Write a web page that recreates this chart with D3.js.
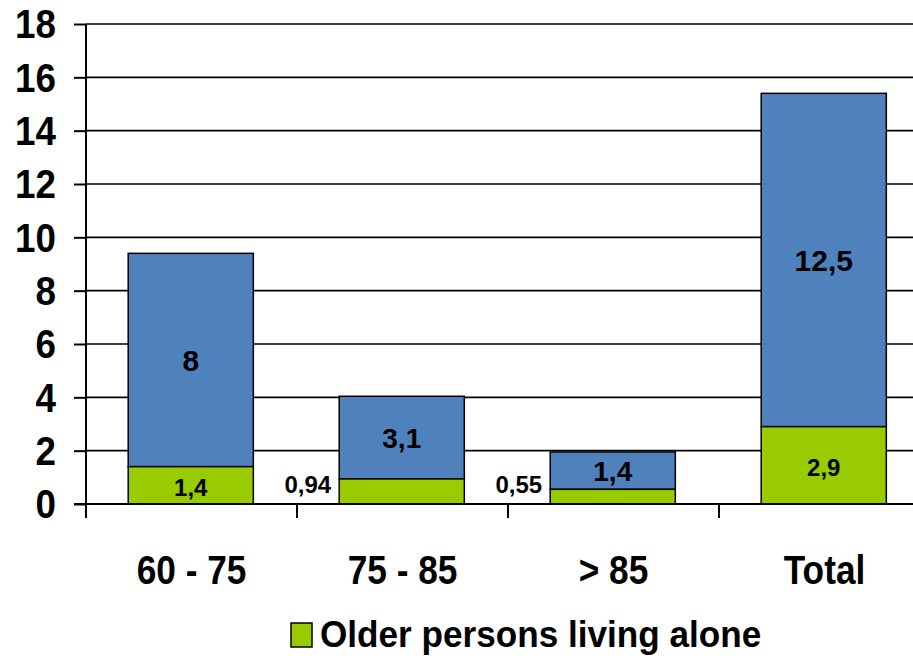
<!DOCTYPE html>
<html>
<head>
<meta charset="utf-8">
<script src="https://cdn.jsdelivr.net/npm/d3@7"></script>
<style>
  html, body { margin: 0; padding: 0; background: #fff; }
  text { font-family: "Liberation Sans", Arial, sans-serif; font-weight: bold; fill: #000; }
</style>
</head>
<body>
<svg id="chart" width="913" height="658"></svg>
<script>
// age groups, values
const categories = ["60 - 75", "75 - 85", "> 85", "Total"];
const aloneValues = [1.4, 0.94, 0.55, 2.9];   // green, bottom
const otherValues = [8, 3.1, 1.4, 12.5];      // blue, stacked on top
const yTicks = [0, 2, 4, 6, 8, 10, 12, 14, 16, 18];
const legendLabel = "Older persons living alone";

const fmt = v => String(v).replace(".", ",");

const svg = d3.select("#chart");

const x = d3.scaleBand().domain(categories).range([86, 930]).padding(0);
const y = d3.scaleLinear().domain([0, 18]).range([504, 24]);
const bw = x.bandwidth();

// gridlines + tick marks on the left
const yAxis = d3.axisLeft(y).tickValues(yTicks).tickSize(12).tickFormat("");
const gy = svg.append("g").attr("transform", "translate(86,0)").call(yAxis);
gy.select(".domain").remove();
gy.selectAll(".tick line").attr("stroke", "#000").attr("stroke-width", 2);

svg.append("g").selectAll("line")
  .data(yTicks.filter(d => d > 0))
  .join("line")
    .attr("x1", 86).attr("x2", 930)
    .attr("y1", d => y(d)).attr("y2", d => y(d))
    .attr("stroke", "#000").attr("stroke-width", 1.6);

// tick labels (slightly condensed like the original)
svg.append("g").selectAll("text")
  .data(yTicks)
  .join("text")
    .attr("transform", d => `translate(56,${y(d)}) scale(0.92,1)`)
    .attr("text-anchor", "end")
    .attr("dy", "0.36em")
    .attr("font-size", 40)
    .text(d => d);

// stacked bars
const bars = svg.append("g");
categories.forEach((c, i) => {
  const x0 = x(c) + bw * 0.2;
  const w = bw * 0.593;
  const g0 = aloneValues[i], g1 = aloneValues[i] + otherValues[i];
  bars.append("rect")
    .attr("x", x0).attr("width", w)
    .attr("y", y(g1)).attr("height", y(g0) - y(g1))
    .attr("fill", "#4F81BD").attr("stroke", "#000").attr("stroke-width", 1.5);
  bars.append("rect")
    .attr("x", x0).attr("width", w)
    .attr("y", y(g0)).attr("height", y(0) - y(g0))
    .attr("fill", "#99CC00").attr("stroke", "#000").attr("stroke-width", 1.5);

  // blue value label
  bars.append("text")
    .attr("x", x0 + w / 2).attr("y", (y(g0) + y(g1)) / 2)
    .attr("text-anchor", "middle").attr("dy", "0.36em")
    .attr("font-size", otherValues[i] > 5 ? 30 : 28)
    .text(fmt(otherValues[i]));

  // green value label: inside when there is room, else left of the bar
  const inside = aloneValues[i] >= 1;
  bars.append("text")
    .attr("x", inside ? x0 + w / 2 : x0 - 8)
    .attr("y", inside ? (y(0) + y(g0)) / 2 + 2 : y(0.75))
    .attr("text-anchor", inside ? "middle" : "end").attr("dy", "0.36em")
    .attr("font-size", 24)
    .text(fmt(aloneValues[i]));
});

// x axis line and ticks
svg.append("line")
  .attr("x1", 74).attr("x2", 930).attr("y1", y(0)).attr("y2", y(0))
  .attr("stroke", "#000").attr("stroke-width", 2.2);
svg.append("line")
  .attr("x1", 86).attr("x2", 86).attr("y1", y(18)).attr("y2", 518)
  .attr("stroke", "#000").attr("stroke-width", 2);
svg.append("g").selectAll("line")
  .data(categories.slice(1))
  .join("line")
    .attr("x1", d => x(d)).attr("x2", d => x(d))
    .attr("y1", y(0)).attr("y2", 518)
    .attr("stroke", "#000").attr("stroke-width", 2);

// category labels
svg.append("g").selectAll("text")
  .data(categories)
  .join("text")
    .attr("transform", d => `translate(${x(d) + bw * 0.5},584) scale(0.86,1)`)
    .attr("text-anchor", "middle")
    .attr("font-size", 41)
    .text(d => d);

// legend
svg.append("rect")
  .attr("x", 291).attr("y", 623).attr("width", 21).attr("height", 24)
  .attr("fill", "#99CC00").attr("stroke", "#000").attr("stroke-width", 1.5);
svg.append("text")
  .attr("transform", "translate(320,647) scale(0.95,1)")
  .attr("font-size", 37)
  .text(legendLabel);
</script>
</body>
</html>
